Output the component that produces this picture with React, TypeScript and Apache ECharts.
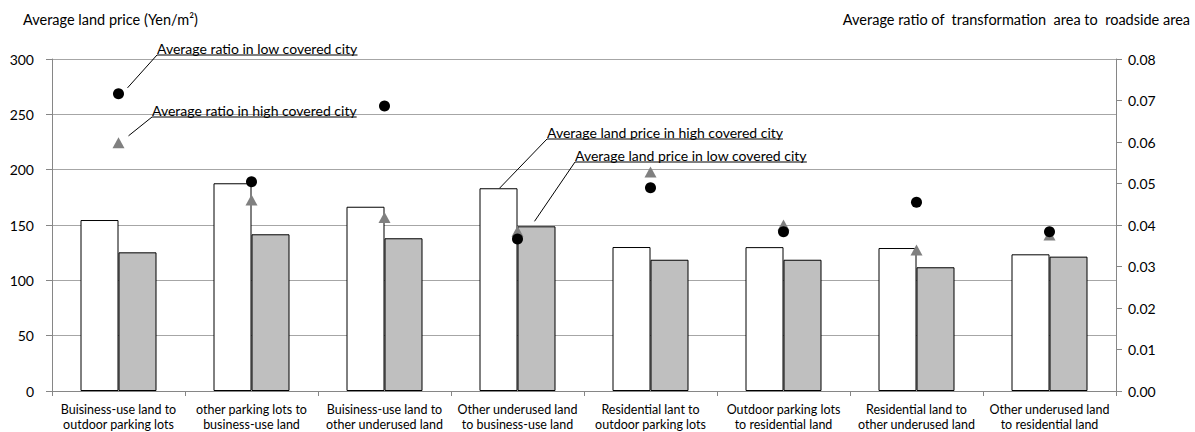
import React, { useEffect, useRef } from "react";
import * as echarts from "echarts";

const categories = [
  "Buisiness-use land to\noutdoor parking lots",
  "other parking lots to\nbusiness-use land",
  "Buisiness-use land to\nother underused land",
  "Other underused land\nto business-use land",
  "Residential lant to\noutdoor parking lots",
  "Outdoor parking lots\nto residential land",
  "Residential land to\nother underused land",
  "Other underused land\nto residential land",
];

// Average land price (Yen/m2)
const priceHigh = [154.5, 187.7, 166.5, 183.2, 130.1, 130.0, 129.2, 123.5];
const priceLow = [125.3, 141.6, 138.0, 148.8, 118.6, 118.6, 111.8, 121.4];

// Average ratio of transformation area to roadside area
const ratioHigh = [0.0598, 0.046, 0.0418, 0.0385, 0.0528, 0.040, 0.034, 0.0376];
const ratioLow = [0.0716, 0.0504, 0.0687, 0.0366, 0.049, 0.0384, 0.0455, 0.0384];

const leftTicks = { min: 0, max: 300, interval: 50 };
const rightTicks = { min: 0, max: 0.08, interval: 0.01 };

const FONT = "Lato, 'Open Sans', sans-serif";
const BAR_W = 38;
const CALLOUT_SIZE = 14;
const TITLE_SIZE = 14.5;

export default function App() {
  const ref = useRef<HTMLDivElement>(null);

  useEffect(() => {
    document.body.style.margin = "0";
    if (!ref.current) return;
    const chart = echarts.init(ref.current, undefined, { renderer: "svg" });

    const axisGray = "#868686";
    const gridGray = "#a6a6a6";

    chart.setOption({
      animation: false,
      textStyle: { fontFamily: FONT },
      grid: { left: 52, right: 79, top: 59, bottom: 41 },
      xAxis: {
        type: "category",
        data: categories,
        axisLine: { lineStyle: { color: axisGray, width: 1 } },
        axisTick: { show: true, length: 5, lineStyle: { color: axisGray } },
        axisLabel: {
          interval: 0,
          margin: 11,
          fontSize: 12.5,
          lineHeight: 15,
          color: "#000",
          fontFamily: FONT,
        },
      },
      yAxis: [
        {
          type: "value",
          ...leftTicks,
          axisLine: { show: true, lineStyle: { color: axisGray } },
          axisTick: { show: true, length: 6, lineStyle: { color: axisGray } },
          axisLabel: { fontSize: 14, color: "#000", margin: 18, fontFamily: FONT },
          splitLine: { lineStyle: { color: gridGray, width: 1 } },
        },
        {
          type: "value",
          ...rightTicks,
          position: "right",
          axisLine: { show: true, lineStyle: { color: axisGray } },
          axisTick: { show: true, length: 6, lineStyle: { color: axisGray } },
          axisLabel: {
            fontSize: 14,
            color: "#000",
            margin: 12,
            fontFamily: FONT,
            formatter: (v: number) => v.toFixed(2),
          },
          splitLine: { show: false },
        },
      ],
      series: [
        {
          name: "Average land price in high covered city",
          type: "bar",
          data: priceHigh,
          barWidth: BAR_W,
          barGap: "0%",
          itemStyle: { color: "#ffffff", borderColor: "#000", borderWidth: 1 },
        },
        {
          name: "Average land price in low covered city",
          type: "bar",
          data: priceLow,
          barWidth: BAR_W,
          barGap: "0%",
          itemStyle: { color: "#bfbfbf", borderColor: "#000", borderWidth: 1 },
        },
        {
          name: "Average ratio in high covered city",
          type: "scatter",
          yAxisIndex: 1,
          data: ratioHigh,
          symbol: "triangle",
          symbolSize: [12, 11],
          itemStyle: { color: "#808080", opacity: 1 },
          z: 3,
        },
        {
          name: "Average ratio in low covered city",
          type: "scatter",
          yAxisIndex: 1,
          data: ratioLow,
          symbol: "circle",
          symbolSize: 11,
          itemStyle: { color: "#000", opacity: 1 },
          z: 4,
        },
      ],
    });

    // Callout labels: leader lines start at the marks they describe
    const ctx = document.createElement("canvas").getContext("2d")!;
    ctx.font = `${CALLOUT_SIZE}px ${FONT}`;
    const measure = (t: string) => ctx.measureText(t).width;

    const toPx = (seriesIndex: number, idx: number, val: number) =>
      chart.convertToPixel({ seriesIndex }, [idx, val]) as number[];

    const pLow = toPx(3, 0, ratioLow[0]);
    const pHigh = toPx(2, 0, ratioHigh[0]);
    const bHigh = toPx(0, 3, priceHigh[3]);
    const bLow = toPx(1, 3, priceLow[3]);

    const callouts = [
      { text: "Average ratio in low covered city", from: [pLow[0] + 9, pLow[1] - 6], x: 157, uy: 55 },
      { text: "Average ratio in high covered city", from: [pHigh[0] + 10, pHigh[1] - 7], x: 152, uy: 117 },
      { text: "Average land price in high covered city", from: [bHigh[0] - BAR_W / 2 + 1, bHigh[1]], x: 547, uy: 139 },
      { text: "Average land price in low covered city", from: [bLow[0] + BAR_W / 2 - 2, bLow[1] - 5], x: 575, uy: 162 },
    ];

    const graphics: any[] = [
      {
        type: "text",
        x: 23,
        y: 12,
        style: { text: "Average land price (Yen/m²)", fontSize: TITLE_SIZE, fontFamily: FONT, fill: "#000" },
      },
      {
        type: "text",
        x: 1190,
        y: 12,
        style: {
          text: "Average ratio of  transformation  area to  roadside area",
          fontSize: TITLE_SIZE,
          fontFamily: FONT,
          fill: "#000",
          align: "right",
          textAlign: "right",
        },
      },
    ];

    callouts.forEach((c) => {
      const w = measure(c.text);
      graphics.push(
        {
          type: "line",
          shape: { x1: c.from[0], y1: c.from[1], x2: c.x, y2: c.uy },
          style: { stroke: "#000", lineWidth: 1 },
          z: 10,
        },
        {
          type: "line",
          shape: { x1: c.x, y1: c.uy, x2: c.x + w, y2: c.uy },
          style: { stroke: "#000", lineWidth: 1 },
          z: 10,
        },
        {
          type: "text",
          x: c.x,
          y: c.uy,
          style: {
            text: c.text,
            fontSize: CALLOUT_SIZE,
            fontFamily: FONT,
            fill: "#000",
            verticalAlign: "bottom",
            textVerticalAlign: "bottom",
          },
          z: 10,
        }
      );
    });

    chart.setOption({ graphic: graphics });

    return () => chart.dispose();
  }, []);

  return <div ref={ref} style={{ width: 1195, height: 432 }} />;
}
